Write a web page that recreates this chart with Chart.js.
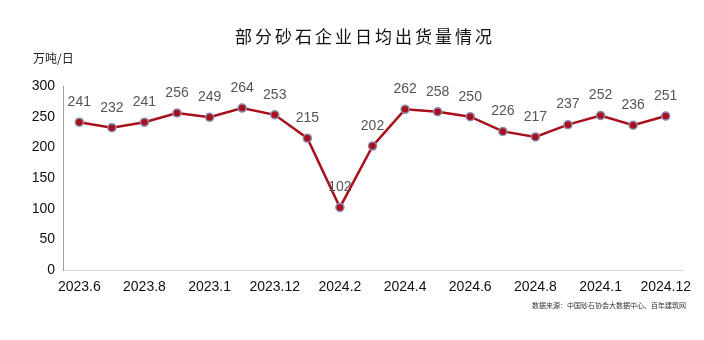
<!DOCTYPE html>
<html>
<head>
<meta charset="utf-8">
<script src="https://cdn.jsdelivr.net/npm/chart.js@4/dist/chart.umd.min.js"></script>
<style>
  html, body { margin: 0; padding: 0; background: #fff; }
  #box { width: 704px; height: 340px; position: relative; }
</style>
</head>
<body>
<div id="box"><canvas id="myChart"></canvas></div>
<script>
// months, written the way the spreadsheet printed them (2023.10 -> 2023.1)
var months = [
    "2023.6", "2023.7", "2023.8", "2023.9", "2023.1", "2023.11", "2023.12",
    "2024.1", "2024.2", "2024.3", "2024.4", "2024.5", "2024.6", "2024.7",
    "2024.8", "2024.9", "2024.1", "2024.11", "2024.12"
];
// average daily shipments, 10k tonnes per day
var shipments = [241, 232, 241, 256, 249, 264, 253, 215, 102, 202, 262, 258, 250, 226, 217, 237, 252, 236, 251];
var yTicks = [0, 50, 100, 150, 200, 250, 300];

var titleText = "部分砂石企业日均出货量情况";
var unitText = "万吨/日";
var sourceText = "数据来源：中国砂石协会大数据中心、百年建筑网";

// title, unit and source line drawn straight on the canvas
const textPlugin = {
    id: "textPlugin",
    afterDraw(chart) {
        const ctx = chart.ctx;
        ctx.save();
        ctx.fillStyle = "#111";
        ctx.textBaseline = "middle";
        ctx.font = "17px 'Noto Sans CJK SC'";
        ctx.letterSpacing = "3px";
        ctx.textAlign = "center";
        ctx.fillText(titleText, 365, 37);

        ctx.letterSpacing = "0px";
        ctx.font = "12px 'Noto Sans CJK SC'";
        ctx.textAlign = "left";
        ctx.fillStyle = "#222";
        ctx.fillText(unitText, 33, 58);

        ctx.font = "7px 'Noto Sans CJK SC'";
        ctx.textAlign = "right";
        ctx.fillStyle = "#333";
        ctx.fillText(sourceText, 686, 305);
        ctx.restore();
    }
};

// value labels above each point
const valueLabels = {
    id: "valueLabels",
    afterDatasetsDraw(chart) {
        const ctx = chart.ctx;
        const meta = chart.getDatasetMeta(0);
        ctx.save();
        ctx.font = "14px 'Liberation Sans', Arial";
        ctx.fillStyle = "#555";
        ctx.textAlign = "center";
        ctx.textBaseline = "middle";
        meta.data.forEach((pt, i) => {
            ctx.fillText(String(shipments[i]), pt.x, pt.y - 20);
        });
        ctx.restore();
    }
};

new Chart("myChart", {
    type: "line",
    data: {
        labels: months,
        datasets: [{
            data: shipments,
            borderColor: "#a8101c",
            borderWidth: 2.5,
            pointRadius: 4,
            pointBackgroundColor: "#a8101c",
            pointBorderColor: "#8a8cb0",
            pointBorderWidth: 1.5,
            tension: 0
        }]
    },
    options: {
        responsive: true,
        maintainAspectRatio: false,
        animation: false,
        layout: { padding: { top: 86, right: 22, left: 0, bottom: 0 } },
        plugins: {
            legend: { display: false },
            tooltip: { enabled: false }
        },
        scales: {
            x: {
                offset: true,
                grid: { display: false, drawTicks: false },
                border: { color: "#d4d4d4", width: 1 },
                afterFit(scale) { scale.height = 70; },
                ticks: {
                    autoSkip: false,
                    maxRotation: 0,
                    padding: 9,
                    color: "#111",
                    font: { size: 14, family: "'Liberation Sans', Arial" },
                    callback: function (v, i) { return i % 2 === 0 ? months[i] : ""; }
                }
            },
            y: {
                min: 0,
                max: 300,
                afterBuildTicks(scale) { scale.ticks = yTicks.map(v => ({ value: v })); },
                afterFit(scale) { scale.width = 63; },
                grid: { display: false, drawTicks: false },
                border: { color: "#a0a0a0", width: 1 },
                ticks: {
                    padding: 8,
                    color: "#111",
                    font: { size: 14, family: "'Liberation Sans', Arial" }
                }
            }
        }
    },
    plugins: [textPlugin, valueLabels]
});
</script>
</body>
</html>
